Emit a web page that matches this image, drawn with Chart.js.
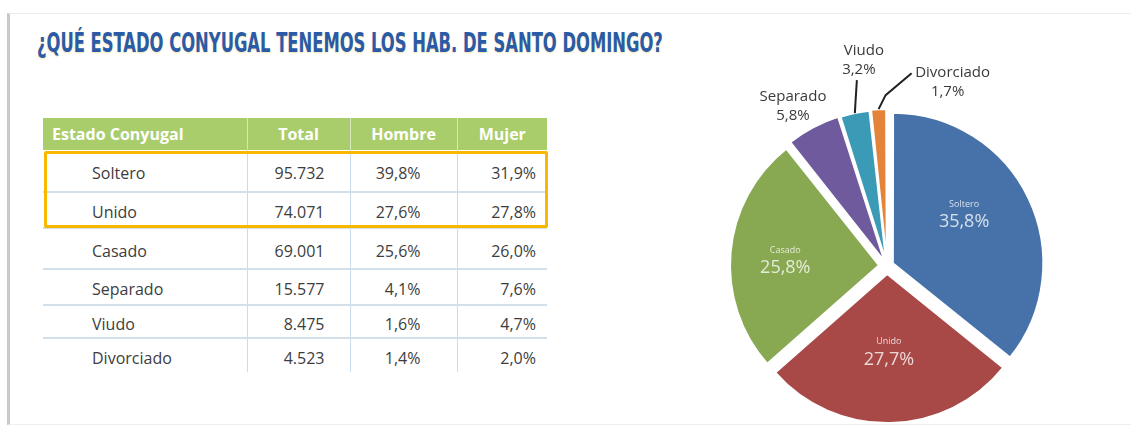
<!DOCTYPE html>
<html>
<head>
<meta charset="utf-8">
<script src="https://cdn.jsdelivr.net/npm/chart.js@4"></script>
<style>
  body { margin: 0; width: 1131px; height: 428px; overflow: hidden; background: #fff; position: relative; font-family: "Open Sans", "Noto Sans", sans-serif; }
  #frame { position: absolute; left: 7px; top: 13px; width: 1124px; height: 412px; border-left: 3px solid #c9c9c9; border-top: 1px solid #ececec; border-bottom: 1px solid #efefef; box-sizing: border-box; }
  #title { position: absolute; left: 37px; top: 29px; white-space: nowrap; font-family: "Liberation Sans Narrow", "DejaVu Sans Condensed", sans-serif; font-stretch: condensed; font-weight: bold; font-size: 27px; line-height: 1; color: #2b5aa6; text-shadow: 0 1px 2px rgba(235, 215, 140, 0.7); transform-origin: left top; }
  #tbl { position: absolute; left: 43px; top: 118px; border-collapse: collapse; table-layout: fixed; }
  #tbl th { background: #aacd6c; color: #fff; font-weight: bold; font-size: 16px; height: 32px; padding: 0; border-left: 1px solid #d6e7bd; }
  #tbl th:first-child { border-left: none; text-align: left; padding-left: 9px; }
  #tbl td { font-size: 16px; color: #3d3d3d; padding: 4px 0 0 0; border-left: 1px solid #c9dcec; border-bottom: 2px solid #d3e0ea; text-align: right; }
  #tbl td:first-child { border-left: none; text-align: left; padding-left: 49px; }
  #tbl tr:last-child td { border-bottom: none; }
  #box { position: absolute; left: 44px; top: 151px; width: 504px; height: 77px; border: 3px solid #f8b700; border-radius: 2px; box-sizing: border-box; }
  #pieWrap { position: absolute; left: 660px; top: 0; width: 471px; height: 428px; }
</style>
</head>
<body>
<div id="frame"></div>
<div id="title">¿QUÉ ESTADO CONYUGAL TENEMOS LOS HAB. DE SANTO DOMINGO?</div>
<table id="tbl"></table>
<div id="box"></div>
<div id="pieWrap"><canvas id="pie" width="471" height="428"></canvas></div>
<script>
const categories = ['Soltero', 'Unido', 'Casado', 'Separado', 'Viudo', 'Divorciado'];
const tableHeaders = ['Estado Conyugal', 'Total', 'Hombre', 'Mujer'];
const totals = [95732, 74071, 69001, 15577, 8475, 4523];
const hombrePct = [39.8, 27.6, 25.6, 4.1, 1.6, 1.4];
const mujerPct = [31.9, 27.8, 26.0, 7.6, 4.7, 2.0];
const piePct = [35.8, 27.7, 25.8, 5.8, 3.2, 1.7];

const sliceColors = ['#4672a9', '#a84947', '#88a852', '#6f5a9d', '#3b9bb6', '#e4843a'];

function fmtThousands(n) {
    return String(n).replace(/\B(?=(\d{3})+(?!\d))/g, '.');
}
function fmtPct(v) {
    return v.toFixed(1).replace('.', ',') + '%';
}

// table
const colWidths = [204, 103, 107, 90];
const rowHeights = [42, 36, 41, 36, 33, 34];
const padRight = [0, 25, 36, 11];
const tbl = document.getElementById('tbl');
let html = '<colgroup>' + colWidths.map(w => `<col style="width:${w}px">`).join('') + '</colgroup>';
html += '<tr>' + tableHeaders.map(h => `<th>${h}</th>`).join('') + '</tr>';
categories.forEach((c, i) => {
    const cells = [c, fmtThousands(totals[i]), fmtPct(hombrePct[i]), fmtPct(mujerPct[i])];
    html += `<tr style="height:${rowHeights[i]}px">` + cells.map((v, j) =>
        `<td style="${j ? 'padding-right:' + padRight[j] + 'px' : ''}">${v}</td>`).join('') + '</tr>';
});
tbl.innerHTML = html;

// squeeze title to the width of the original
const title = document.getElementById('title');
title.style.transform = `scaleX(${626 / title.offsetWidth})`;

const sliceOffsets = [26, 32, 32, 20, 16, 17];

const sliceLabels = {
    id: 'sliceLabels',
    afterDatasetsDraw(chart, args, opts) {
        const ctx = chart.ctx;
        const meta = chart.getDatasetMeta(0);
        meta.data.forEach((arc, i) => {
            const p = arc.getProps(['x', 'y', 'startAngle', 'endAngle', 'outerRadius', 'circumference'], true);
            const mid = (p.startAngle + p.endAngle) / 2;
            // same shift the arc element applies when drawing with an offset
            const off = sliceOffsets[i] / 4 * (2 - Math.sin(Math.min(Math.PI, p.circumference)));
            const cx = p.x + Math.cos(mid) * off;
            const cy = p.y + Math.sin(mid) * off;
            const name = chart.data.labels[i];
            const pct = fmtPct(chart.data.datasets[0].data[i]);
            ctx.save();
            ctx.textAlign = 'center';
            ctx.textBaseline = 'middle';
            const inside = opts.inside[i];
            if (inside) {
                const a = p.startAngle + (p.endAngle - p.startAngle) * inside.a;
                const r = p.outerRadius * inside.r;
                const x = cx + Math.cos(a) * r;
                const y = cy + Math.sin(a) * r;
                ctx.fillStyle = 'rgba(255,255,255,0.78)';
                ctx.font = '9px "Open Sans"';
                ctx.fillText(name, x, y - 10);
                ctx.font = '18px "Open Sans"';
                ctx.fillText(pct, x, y + 8);
            } else {
                const o = opts.outside[i];
                const ox = cx + Math.cos(mid) * p.outerRadius;
                const oy = cy + Math.sin(mid) * p.outerRadius;
                if (o.line) {
                    ctx.strokeStyle = '#222';
                    ctx.lineWidth = 2;
                    ctx.beginPath();
                    ctx.moveTo(ox, oy);
                    o.line.forEach(([dx, dy]) => ctx.lineTo(ox + dx, oy + dy));
                    ctx.stroke();
                }
                ctx.fillStyle = '#3a3a3a';
                ctx.font = '15px "Open Sans"';
                ctx.fillText(name, ox + o.dx + (o.nx || 0), oy + o.dy - 9.5);
                ctx.fillText(pct, ox + o.dx, oy + o.dy + 9.5);
            }
            ctx.restore();
        });
    }
};

new Chart(document.getElementById('pie'), {
    type: 'pie',
    data: {
        labels: categories,
        datasets: [{
            data: piePct,
            backgroundColor: sliceColors,
            borderColor: '#ffffff',
            borderWidth: 2,
            offset: sliceOffsets,
            hoverOffset: 0,
            radius: 149
        }]
    },
    options: {
        responsive: false,
        animation: false,
        events: [],
        layout: { padding: { left: 67, right: 84, top: 106, bottom: 2 } },
        plugins: {
            legend: { display: false },
            tooltip: { enabled: false },
            sliceLabels: {
                inside: {
                    0: { a: 0.43, r: 0.57 },
                    1: { a: 0.5, r: 0.52 },
                    2: { a: 0.48, r: 0.63 }
                },
                outside: {
                    3: { dx: -20, dy: -21 },
                    4: { dx: 4, dy: -53, nx: 5, line: [[2, -33]] },
                    5: { dx: 69, dy: -27, nx: 5, line: [[7, -14], [33, -36]] }
                }
            }
        }
    },
    plugins: [sliceLabels]
});
</script>
</body>
</html>
